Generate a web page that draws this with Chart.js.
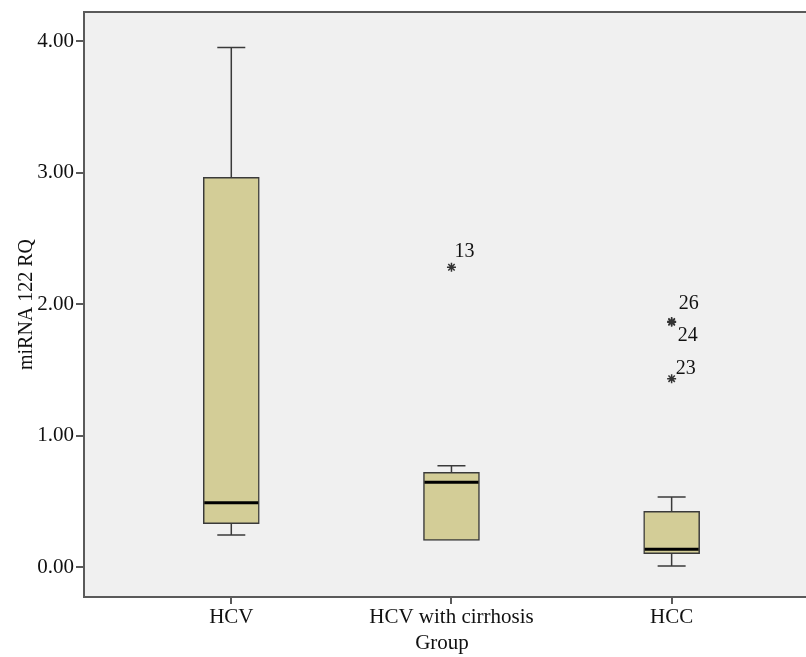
<!DOCTYPE html>
<html>
<head>
<meta charset="utf-8">
<title>miRNA 122 RQ by group</title>
<script src="https://cdn.jsdelivr.net/npm/chart.js@4.4.1/dist/chart.umd.min.js"></script>
<style>
  html, body { margin: 0; padding: 0; background: #ffffff; }
  canvas { display: block; }
</style>
</head>
<body>
<canvas id="boxChart" width="806" height="657"></canvas>
<script>
// box plot values
const groups = ['HCV', 'HCV with cirrhosis', 'HCC'];
const whiskerLow = [0.243, 0.203, 0.008];
const q1 = [0.330, 0.203, 0.102];
const medians = [0.490, 0.646, 0.135];
const q3 = [2.966, 0.720, 0.424];
const whiskerHigh = [3.952, 0.771, 0.532];

// extreme values (stars) with their case numbers
const outlierGroup = [1, 2, 2, 2];
const outlierValues = [2.281, 1.868, 1.862, 1.433];
const outlierIds = ['13', '26', '24', '23'];

const yTicks = [0, 1, 2, 3, 4];

// where each case number sits next to its star
const idOffset = { '13': [3, -10], '26': [7, -13], '24': [6, 19], '23': [4, -5] };

const serif = 'Liberation Serif, Times New Roman, serif';
const frameColor = '#5a5a5a';

// grey plot panel, running on past the right edge like the cropped original
const plotBackground = {
  id: 'plotBackground',
  beforeDraw(chart) {
    const { ctx, chartArea: a } = chart;
    ctx.save();
    ctx.fillStyle = '#f0f0f0';
    ctx.fillRect(a.left, a.top, chart.width - a.left, a.bottom - a.top);
    ctx.strokeStyle = frameColor;
    ctx.lineWidth = 2;
    ctx.beginPath();
    ctx.moveTo(a.left, a.top);
    ctx.lineTo(chart.width, a.top);
    ctx.moveTo(a.right - 1, a.bottom);
    ctx.lineTo(chart.width, a.bottom);
    ctx.stroke();
    ctx.restore();
  }
};

const boxParts = {
  id: 'boxParts',
  afterDatasetsDraw(chart) {
    const { ctx, scales: { x, y } } = chart;
    const half = 28 / 2;
    const boxHalf = 56 / 2;
    ctx.save();
    groups.forEach((g, i) => {
      const cx = x.getPixelForValue(i);
      ctx.strokeStyle = '#3a3a3a';
      ctx.lineWidth = 1.5;
      ctx.beginPath();
      if (whiskerHigh[i] > q3[i]) {
        ctx.moveTo(cx, y.getPixelForValue(q3[i]));
        ctx.lineTo(cx, y.getPixelForValue(whiskerHigh[i]));
        ctx.moveTo(cx - half, y.getPixelForValue(whiskerHigh[i]));
        ctx.lineTo(cx + half, y.getPixelForValue(whiskerHigh[i]));
      }
      if (whiskerLow[i] < q1[i]) {
        ctx.moveTo(cx, y.getPixelForValue(q1[i]));
        ctx.lineTo(cx, y.getPixelForValue(whiskerLow[i]));
        ctx.moveTo(cx - half, y.getPixelForValue(whiskerLow[i]));
        ctx.lineTo(cx + half, y.getPixelForValue(whiskerLow[i]));
      }
      ctx.stroke();
      // median
      ctx.strokeStyle = '#000000';
      ctx.lineWidth = 3;
      ctx.beginPath();
      ctx.moveTo(cx - boxHalf + 1, y.getPixelForValue(medians[i]));
      ctx.lineTo(cx + boxHalf - 1, y.getPixelForValue(medians[i]));
      ctx.stroke();
    });
    // case numbers
    ctx.fillStyle = '#111111';
    ctx.font = '20px ' + serif;
    ctx.textBaseline = 'alphabetic';
    ctx.textAlign = 'left';
    outlierIds.forEach((id, i) => {
      const px = x.getPixelForValue(outlierGroup[i]);
      const py = y.getPixelForValue(outlierValues[i]);
      const off = idOffset[id];
      ctx.fillText(id, px + off[0], py + off[1]);
    });
    ctx.restore();
  }
};

new Chart(document.getElementById('boxChart'), {
  type: 'bar',
  data: {
    datasets: [
      {
        type: 'bar',
        data: groups.map((g, i) => ({ x: i, y: [q1[i], q3[i]] })),
        backgroundColor: '#d3cd97',
        borderColor: '#3a3a3a',
        borderWidth: 1.5,
        borderSkipped: false,
        barThickness: 56
      },
      {
        type: 'scatter',
        data: outlierValues.map((v, i) => ({ x: outlierGroup[i], y: v })),
        pointStyle: 'star',
        radius: 4.5,
        borderColor: '#333333',
        borderWidth: 1.5
      }
    ]
  },
  options: {
    responsive: false,
    animation: false,
    devicePixelRatio: 1,
    layout: { padding: { top: 12, left: 0, right: 0, bottom: 0 } },
    plugins: { legend: { display: false }, tooltip: { enabled: false } },
    scales: {
      x: {
        type: 'linear',
        offset: false,
        min: -0.669,
        max: 2.583,
        afterBuildTicks: (s) => { s.ticks = groups.map((g, i) => ({ value: i })); },
        afterFit: (s) => { s.height = 60; s.paddingLeft = 0; s.paddingRight = 0; },
        grid: { offset: false, drawOnChartArea: false, drawTicks: true, tickLength: 7, color: frameColor, lineWidth: 2 },
        border: { display: true, color: frameColor, width: 2 },
        ticks: {
          autoSkip: false,
          maxRotation: 0,
          padding: 1,
          color: '#111111',
          font: { family: serif, size: 21 },
          callback: (v) => groups[v]
        },
        title: {
          display: true,
          text: 'Group',
          color: '#111111',
          font: { family: serif, size: 21 },
          padding: { top: 0, bottom: 1 }
        }
      },
      y: {
        min: -0.228,
        max: 4.223,
        afterBuildTicks: (s) => { s.ticks = yTicks.map((v) => ({ value: v })); },
        afterFit: (s) => { s.width = 84; s.paddingTop = 0; s.paddingBottom = 0; },
        grid: { drawOnChartArea: false, drawTicks: true, tickLength: 8, color: frameColor, lineWidth: 2 },
        border: { display: true, color: frameColor, width: 2 },
        ticks: {
          padding: 2,
          color: '#111111',
          font: { family: serif, size: 21 },
          callback: (v) => Number(v).toFixed(2)
        },
        title: {
          display: true,
          text: 'miRNA 122 RQ',
          color: '#111111',
          font: { family: serif, size: 20 },
          padding: { top: 15, bottom: 0 }
        }
      }
    }
  },
  plugins: [plotBackground, boxParts]
});
</script>
</body>
</html>
